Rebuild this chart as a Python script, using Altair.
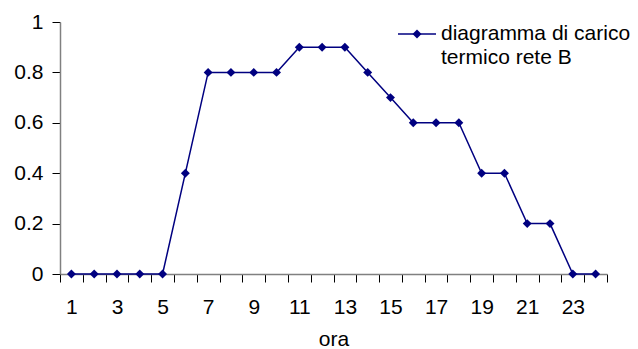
import altair as alt
import pandas as pd

# Hourly thermal load profile of network B
ore = list(range(1, 25))
carico = [0, 0, 0, 0, 0, 0.4, 0.8, 0.8, 0.8, 0.8, 0.9, 0.9, 0.9, 0.8, 0.7, 0.6,
          0.6, 0.6, 0.4, 0.4, 0.2, 0.2, 0, 0]
serie = "diagramma di carico termico rete B"
legenda_righe = ["diagramma di carico", "termico rete B"]

df = pd.DataFrame({"ora": ore, "carico": carico})
df_leg = pd.DataFrame({"serie": [serie]})

FONT = "Liberation Sans"
NAVY = "#000080"
FS = 21

x_enc = alt.X(
    "ora:O",
    scale=alt.Scale(paddingInner=0, paddingOuter=0),
    axis=alt.Axis(
        title="ora",
        labelAngle=0,
        labelExpr="datum.value % 2 == 1 ? datum.label : ''",
        tickBand="extent",
        tickSize=8,
        labelPadding=14,
        titlePadding=11,
    ),
)
y_enc = alt.Y(
    "carico:Q",
    scale=alt.Scale(domain=[0, 1], nice=False),
    axis=alt.Axis(
        title=None,
        values=[0, 0.2, 0.4, 0.6, 0.8, 1],
        format=".1~f",
        tickSize=8,
        labelPadding=9,
        grid=False,
    ),
)

linea = alt.Chart(df).mark_line(color=NAVY, strokeWidth=1.5).encode(x=x_enc, y=y_enc)
punti = alt.Chart(df).mark_point(
    shape="diamond", filled=True, color=NAVY, size=80, opacity=1
).encode(x=x_enc, y=y_enc)

# Legend: line sample with a diamond, followed by the two-line series name
leg_linea = alt.Chart(df_leg).mark_rule(color=NAVY, strokeWidth=1.5).encode(
    x=alt.value(338), x2=alt.value(376), y=alt.value(12)
)
leg_punto = alt.Chart(df_leg).mark_point(
    shape="diamond", filled=True, color=NAVY, size=80, opacity=1
).encode(x=alt.value(357), y=alt.value(12))
leg_testo = alt.Chart(df_leg).mark_text(
    align="left", baseline="middle", font=FONT, fontSize=FS, color="black",
    lineHeight=24,
).encode(x=alt.value(381), y=alt.value(12), text=alt.value(legenda_righe))

chart = (
    alt.layer(linea, punti, leg_linea, leg_punto, leg_testo)
    .properties(
        width=547,
        height=252,
        padding={"left": 60, "top": 22, "right": 31, "bottom": 75},
        autosize=alt.AutoSizeParams(type="none"),
        background="white",
    )
    .configure_view(stroke=None)
    .configure_axis(
        labelFont=FONT,
        titleFont=FONT,
        labelFontSize=FS,
        titleFontSize=FS,
        titleFontWeight="normal",
        labelColor="black",
        titleColor="black",
        domainColor="#808080",
        domainWidth=1.5,
        tickColor="black",
        tickWidth=1,
    )
)

chart.save("out.html", embed_options={"renderer": "svg", "actions": False})
